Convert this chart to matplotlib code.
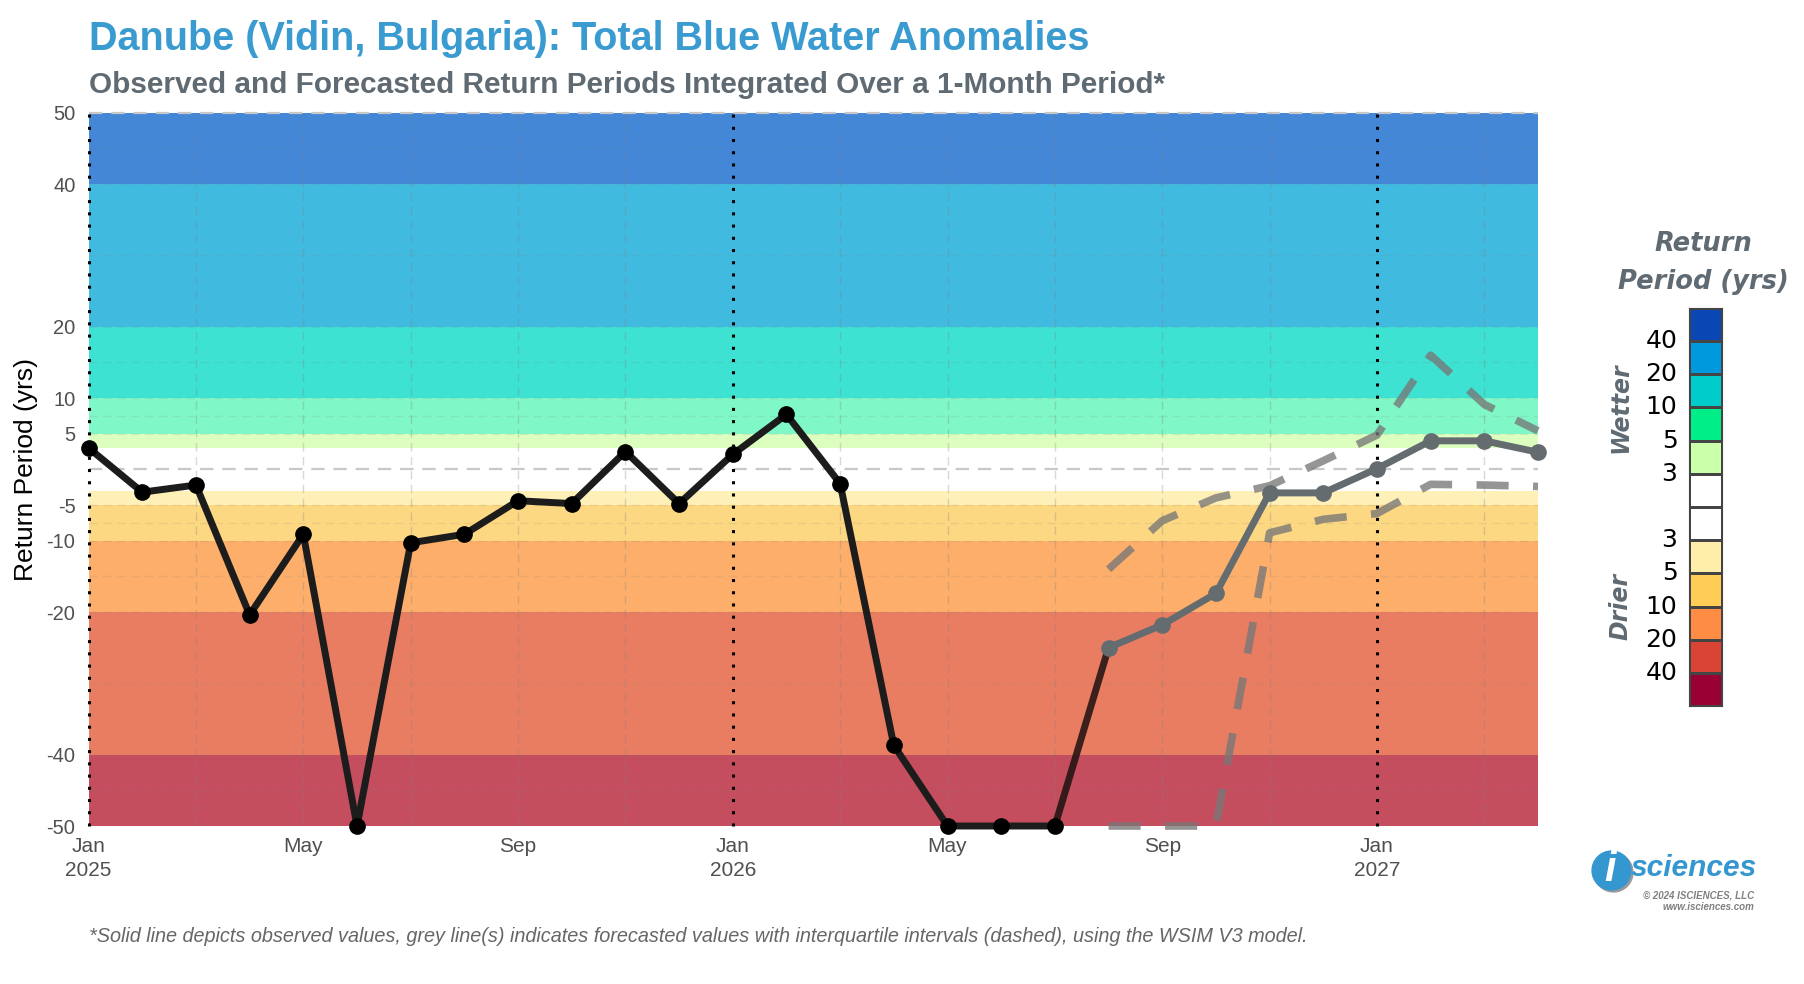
import matplotlib
matplotlib.use("Agg")
import matplotlib.pyplot as plt
from matplotlib.lines import Line2D
from matplotlib.colors import ListedColormap
import numpy as np

W, H = 1804, 984

# ---------------- data ----------------
obs_months = ["2025-01", "2025-02", "2025-03", "2025-04", "2025-05", "2025-06",
              "2025-07", "2025-08", "2025-09", "2025-10", "2025-11", "2025-12",
              "2026-01", "2026-02", "2026-03", "2026-04", "2026-05", "2026-06",
              "2026-07"]
obs_values = [3.0, -3.2, -2.2, -20.4, -9.1, -50.0, -10.3, -9.1, -4.4, -4.8, 2.5, -4.8,
              2.1, 7.7, -2.0, -38.7, -50.0, -50.0, -50.0]

fc_months = ["2026-08", "2026-09", "2026-10", "2026-11", "2026-12",
             "2027-01", "2027-02", "2027-03", "2027-04"]
fc_median = [-25.0, -21.8, -17.4, -3.3, -3.3, 0.1, 4.0, 4.0, 2.4]
fc_upper = [-14.0, -7.2, -4.0, -2.3, 1.2, 4.8, 16.0, 9.1, 5.4]
fc_lower = [-50.0, -50.0, -50.0, -8.9, -7.0, -6.2, -2.1, -2.2, -2.4]

band_edges = [50, 40, 20, 10, 5, 3, -3, -5, -10, -20, -40, -50]
band_colors = ["#4387d6", "#41bae0", "#3de2d2", "#7ff7c6", "#dcffc0", "#ffffff",
               "#fff0b8", "#fdd882", "#fdae6a", "#e97d62", "#c44e5e"]

y_ticks = [50, 40, 20, 10, 5, -5, -10, -20, -40, -50]
x_tick_months = ["2025-01", "2025-05", "2025-09", "2026-01", "2026-05", "2026-09", "2027-01"]
x_tick_labels = ["Jan\n2025", "May", "Sep", "Jan\n2026", "May", "Sep", "Jan\n2027"]

cbar_colors = ["#0a47b5", "#0099dd", "#00cccc", "#00ee88", "#ccffaa", "#ffffff",
               "#ffffff", "#ffeeaa", "#ffcc55", "#ff8c44", "#d94434", "#990033"]
cbar_labels = ["40", "20", "10", "5", "3", "3", "5", "10", "20", "40"]


def midx(s):
    y, m = s.split("-")
    return (int(y) - 2025) * 12 + int(m) - 1


obs_x = [midx(m) for m in obs_months]
fc_x = [midx(m) for m in fc_months]

# ---------------- figure ----------------
fig = plt.figure(figsize=(W / 100, H / 100), dpi=100)
fig.patch.set_facecolor("white")

L, R, T, B = 88.6, 1538, 112.7, 826
ax = fig.add_axes([L / W, 1 - B / H, (R - L) / W, (B - T) / H])
ax.set_xlim(0, 27)
ax.set_ylim(-50, 50)

for top, bot, c in zip(band_edges[:-1], band_edges[1:], band_colors):
    ax.axhspan(bot, top, color=c, lw=0, zorder=0)

# grid
for v in [45, 30, 15, 7.5, -7.5, -15, -30, -45, 40, 20, 10, 5, -5, -10, -20, -40]:
    ax.axhline(v, color="#808080", alpha=0.15, lw=1, ls=(0, (6, 4)), zorder=1)
ax.axhline(0, color="#c8c8c8", lw=1.6, ls=(0, (6, 4)), zorder=1)
ax.axhline(50, color="#c8c8c8", lw=1.6, ls=(0, (6, 4)), zorder=1, clip_on=False)
for m in range(0, 28, 2):
    if m % 12 != 0:
        ax.axvline(m, color="#808080", alpha=0.3, lw=1, ls=(0, (6, 4)), zorder=1)
for m in [0, 12, 24]:
    ax.axvline(m, color="black", lw=2.2, ls=(0, (1, 3)), zorder=2, clip_on=False)

# connecting segment between observed and forecast
ax.plot([obs_x[-1], fc_x[0]], [obs_values[-1], fc_median[0]], color="#1c1010",
        alpha=0.85, lw=5, solid_capstyle="round", zorder=3)

ax.plot(fc_x, fc_upper, color="#777777", alpha=0.78, lw=5.5, ls=(0, (4.2, 3.2)),
        zorder=3, clip_on=False)
ax.plot(fc_x, fc_lower, color="#777777", alpha=0.78, lw=5.5, ls=(0, (4.2, 3.2)),
        zorder=3, clip_on=False)
ax.plot(fc_x, fc_median, color="#646c70", lw=5, marker="o", ms=11,
        zorder=4, clip_on=False)
ax.plot(obs_x, obs_values, color="#1c1c1c", lw=5, marker="o", ms=11,
        markerfacecolor="black", markeredgecolor="black", zorder=5, clip_on=False)

for s in ax.spines.values():
    s.set_visible(False)
ax.set_yticks(y_ticks)
ax.set_yticklabels([str(t) for t in y_ticks], fontsize=14.5, color="#505050",
                   family="Liberation Sans")
ax.set_xticks([midx(m) for m in x_tick_months])
ax.set_xticklabels(x_tick_labels, fontsize=15, color="#505050", family="Liberation Sans",
                   linespacing=1.3)
ax.tick_params(axis="y", length=0, pad=9.5)
ax.tick_params(axis="x", length=0, pad=8)
ax.set_ylabel("Return Period (yrs)", fontsize=19, color="black", family="Liberation Sans",
              labelpad=6)

# titles
fig.text(L / W, 1 - 39 / H, "Danube (Vidin, Bulgaria): Total Blue Water Anomalies",
         fontsize=28.5, weight="bold", color="#3a9bd0", family="Liberation Sans",
         va="center", ha="left")
fig.text(L / W, 1 - 85 / H,
         "Observed and Forecasted Return Periods Integrated Over a 1-Month Period*",
         fontsize=21.4, weight="bold", color="#5f6a72", family="Liberation Sans",
         va="center", ha="left")
fig.text(L / W, 1 - 936 / H,
         "*Solid line depicts observed values, grey line(s) indicates forecasted values "
         "with interquartile intervals (dashed), using the WSIM V3 model.",
         fontsize=14.3, style="italic", color="#666666", family="Liberation Sans",
         va="center", ha="left")

# colorbar legend
cx0, cx1, cy0, cy1 = 1689, 1722, 308, 706
cax = fig.add_axes([cx0 / W, 1 - cy1 / H, (cx1 - cx0) / W, (cy1 - cy0) / H])
n = len(cbar_colors)
cvals = np.arange(n)[::-1].reshape(n, 1)
cax.pcolormesh(np.array([0.0, 1.0]), np.arange(n + 1, dtype=float), cvals,
               cmap=ListedColormap(cbar_colors), edgecolors="#444444",
               linewidth=0.8, vmin=-0.5, vmax=n - 0.5)
cax.set_xlim(0, 1)
cax.set_ylim(0, n)
cax.set_xticks([])
cax.set_yticks([])
for s in cax.spines.values():
    s.set_color("#444444")
    s.set_linewidth(0.8)
for i, lab in enumerate(cbar_labels):
    yb = n - 1 - i
    cax.text(-0.35, yb if i < 5 else yb - 1, lab, transform=cax.transData,
             ha="right", va="center", fontsize=18, color="black", family="DejaVu Sans")

fig.text(1703 / W, 1 - 244 / H, "Return", fontsize=18.5, weight="bold", style="italic",
         color="#5f6a72", family="DejaVu Sans", ha="center", va="center")
fig.text(1703 / W, 1 - 282 / H, "Period (yrs)", fontsize=18.5, weight="bold", style="italic",
         color="#5f6a72", family="DejaVu Sans", ha="center", va="center")
fig.text(1620 / W, 1 - 408 / H, "Wetter", fontsize=17, weight="bold", style="italic",
         color="#5f6a72", family="DejaVu Sans", ha="center", va="center", rotation=90)
fig.text(1620 / W, 1 - 607 / H, "Drier", fontsize=17, weight="bold", style="italic",
         color="#5f6a72", family="DejaVu Sans", ha="center", va="center", rotation=90)

# logo
fig.add_artist(Line2D([1613 / W], [1 - 872 / H], marker="o", markersize=28,
                      color="#999999", transform=fig.transFigure))
fig.add_artist(Line2D([1611 / W], [1 - 870 / H], marker="o", markersize=28,
                      color="#3597d0", transform=fig.transFigure))
fig.text(1610 / W, 1 - 870 / H, "i", fontsize=30, weight="bold", style="italic",
         color="white", family="Liberation Sans", ha="center", va="center")
fig.text(1631 / W, 1 - 868 / H, "sciences", fontsize=21.5, weight="bold", style="italic",
         color="#3597d0", family="Liberation Sans", ha="left", va="center")
fig.text(1754 / W, 1 - 895 / H, "© 2024 ISCIENCES, LLC", fontsize=7, weight="bold",
         style="italic", color="#808080", family="Liberation Sans", ha="right", va="center")
fig.text(1754 / W, 1 - 907 / H, "www.isciences.com", fontsize=7, weight="bold",
         style="italic", color="#808080", family="Liberation Sans", ha="right", va="center")

fig.savefig("out.png", dpi=100, facecolor="white")
